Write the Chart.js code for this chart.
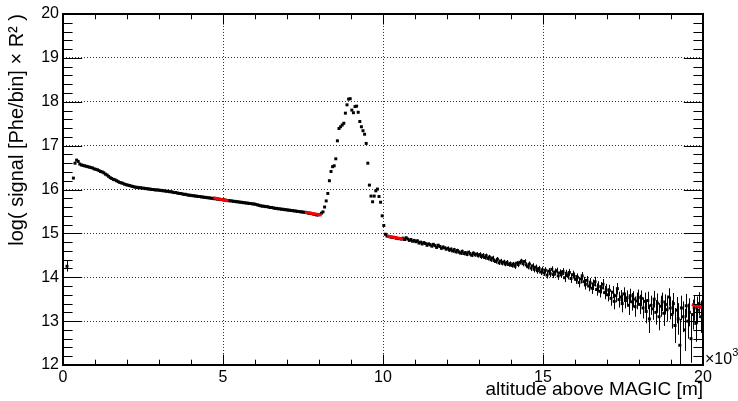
<!DOCTYPE html>
<html>
<head>
<meta charset="utf-8">
<script src="https://cdn.jsdelivr.net/npm/chart.js@4.4.1/dist/chart.umd.min.js"></script>
<style>
  html, body { margin: 0; padding: 0; background: #fff; }
</style>
</head>
<body>
<canvas id="myChart" width="738" height="401"></canvas>
<script>
// histogram binning, altitude in m
const binStart = 0;
const binWidth = 50;

// log( signal x R^2 ) per 50 m bin, one line = 1 km
const signal = [
  null, null, 14.25, null, null, null, 16.26, 16.60, 16.67, 16.64, 16.58, 16.56, 16.55, 16.54, 16.53, 16.52, 16.51, 16.50, 16.49, 16.47,
  16.46, 16.45, 16.43, 16.41, 16.40, 16.38, 16.35, 16.33, 16.30, 16.27, 16.25, 16.23, 16.22, 16.20, 16.18, 16.16, 16.15, 16.14, 16.12, 16.11,
  16.10, 16.09, 16.08, 16.07, 16.06, 16.05, 16.05, 16.04, 16.04, 16.03, 16.03, 16.02, 16.02, 16.01, 16.01, 16.00, 16.00, 15.99, 15.99, 15.99,
  15.98, 15.98, 15.97, 15.97, 15.96, 15.96, 15.95, 15.95, 15.94, 15.93, 15.93, 15.92, 15.91, 15.91, 15.90, 15.89, 15.89, 15.88, 15.87, 15.87,
  15.86, 15.86, 15.85, 15.85, 15.84, 15.84, 15.83, 15.83, 15.82, 15.82, 15.81, 15.81, 15.80, 15.80, 15.79, 15.79, 15.78, 15.78, 15.77, 15.77,
  15.76, 15.76, 15.75, 15.75, 15.74, 15.74, 15.73, 15.73, 15.72, 15.72, 15.71, 15.71, 15.70, 15.70, 15.69, 15.69, 15.68, 15.68, 15.67, 15.67,
  15.66, 15.65, 15.64, 15.63, 15.62, 15.62, 15.61, 15.61, 15.60, 15.59, 15.59, 15.58, 15.57, 15.57, 15.56, 15.56, 15.55, 15.55, 15.54, 15.54,
  15.53, 15.53, 15.52, 15.52, 15.51, 15.51, 15.50, 15.50, 15.49, 15.49, 15.48, 15.48, 15.47, 15.46, 15.46, 15.45, 15.44, 15.43, 15.42, 15.42,
  15.43, 15.46, 15.49, 15.60, 15.74, 15.91, 16.20, 16.41, 16.52, 16.54, 16.70, 17.11, 17.39, 17.43, 17.47, 17.51, 17.74, 17.93, 18.06, 18.07,
  17.81, 17.75, 17.89, 17.90, 17.76, 17.55, 17.43, 17.34, 17.26, 17.05, 16.60, 16.10, 15.85, 15.72, 15.85, 15.97, 16.01, 15.84, 15.71, 15.40,
  15.18, 14.98, 14.94, 14.93, 14.92, 14.91, 14.91, 14.90, 14.89, 14.88, 14.88, 14.87, 14.89, 14.86, 14.90, 14.87, 14.84, 14.86, 14.82, 14.84,
  14.81, 14.83, 14.78, 14.80, 14.76, 14.79, 14.77, 14.73, 14.76, 14.74, 14.71, 14.75, 14.72, 14.68, 14.73, 14.70, 14.66, 14.69, 14.67, 14.64,
  14.66, 14.62, 14.64, 14.60, 14.63, 14.58, 14.61, 14.57, 14.55, 14.59, 14.54, 14.56, 14.52, 14.57, 14.53, 14.50, 14.55, 14.51, 14.53, 14.49,
  14.52, 14.47, 14.50, 14.45, 14.49, 14.43, 14.46, 14.40, 14.44, 14.38, 14.36, 14.41, 14.33, 14.37, 14.32, 14.35, 14.30, 14.34, 14.29, 14.31,
  14.27, 14.30, 14.25, 14.32, 14.29, 14.34, 14.37, 14.31, 14.36, 14.28, 14.24, 14.30, 14.21, 14.26, 14.18, 14.23, 14.15, 14.20, 14.12, 14.17,
  14.10, 14.16, 14.05, 14.14, 14.08, 14.18, 14.06, 14.12, 14.15, 14.03, 14.10, 14.07, 14.13, 13.99, 14.09, 14.04, 14.11, 13.97, 14.06, 14.02,
  13.95, 14.00, 13.88, 13.96, 14.03, 13.90, 13.84, 13.93, 13.80, 13.87, 13.75, 13.83, 13.90, 13.72, 13.79, 13.68, 13.76, 13.84, 13.65, 13.71,
  13.60, 13.70, 13.52, 13.66, 13.45, 13.58, 13.74, 13.49, 13.55, 13.40, 13.62, 13.47, 13.53, 13.36, 13.58, 13.44, 13.50, 13.33, 13.46, 13.54,
  13.38, 13.52, 13.30, 13.45, 13.22, 13.47, 13.05, 13.36, 13.28, 13.50, 13.20, 13.41, 13.10, 13.34, 13.44, 13.18, 13.38, 13.26, 13.55, 13.30,
  13.15, 13.40, 12.90, 13.25, 13.05, 12.45, 13.30, 13.10, 12.80, 13.35, 13.00, 13.20, 12.60, 13.15, 13.30, 12.95, 13.25, 13.40, 13.10, 13.35
];

const signalErr = [
  0, 0, 0.12, 0, 0, 0, 0.02, 0.02, 0.02, 0.02, 0.01, 0.01, 0.01, 0.01, 0.01, 0.01, 0.01, 0.01, 0.01, 0.01,
  0.01, 0.01, 0.01, 0.01, 0.01, 0.01, 0.01, 0.01, 0.01, 0.01, 0.01, 0.01, 0.01, 0.01, 0.01, 0.01, 0.01, 0.01, 0.01, 0.01,
  0.01, 0.01, 0.01, 0.01, 0.01, 0.01, 0.01, 0.01, 0.01, 0.01, 0.01, 0.01, 0.01, 0.01, 0.01, 0.01, 0.01, 0.01, 0.01, 0.01,
  0.01, 0.01, 0.01, 0.01, 0.01, 0.01, 0.01, 0.01, 0.01, 0.01, 0.01, 0.01, 0.01, 0.01, 0.01, 0.01, 0.01, 0.01, 0.01, 0.01,
  0.01, 0.01, 0.01, 0.01, 0.01, 0.01, 0.01, 0.01, 0.01, 0.01, 0.01, 0.01, 0.01, 0.01, 0.01, 0.01, 0.01, 0.01, 0.01, 0.01,
  0.01, 0.01, 0.01, 0.01, 0.01, 0.01, 0.01, 0.01, 0.01, 0.01, 0.01, 0.01, 0.01, 0.01, 0.01, 0.01, 0.01, 0.01, 0.01, 0.01,
  0.01, 0.01, 0.01, 0.01, 0.01, 0.01, 0.01, 0.01, 0.01, 0.01, 0.01, 0.01, 0.01, 0.01, 0.01, 0.01, 0.01, 0.01, 0.01, 0.01,
  0.01, 0.01, 0.01, 0.01, 0.01, 0.01, 0.01, 0.01, 0.01, 0.01, 0.01, 0.01, 0.01, 0.01, 0.01, 0.01, 0.01, 0.01, 0.01, 0.01,
  0.01, 0.01, 0.01, 0.01, 0.01, 0.01, 0.01, 0.01, 0.01, 0.01, 0.01, 0.01, 0.01, 0.01, 0.01, 0.01, 0.01, 0.01, 0.01, 0.01,
  0.01, 0.01, 0.01, 0.01, 0.01, 0.01, 0.01, 0.01, 0.01, 0.01, 0.01, 0.01, 0.01, 0.01, 0.01, 0.01, 0.01, 0.01, 0.01, 0.01,
  0.02, 0.02, 0.02, 0.02, 0.02, 0.02, 0.02, 0.02, 0.02, 0.02, 0.02, 0.02, 0.02, 0.02, 0.02, 0.02, 0.02, 0.02, 0.02, 0.02,
  0.03, 0.03, 0.03, 0.03, 0.03, 0.03, 0.03, 0.03, 0.03, 0.03, 0.03, 0.03, 0.03, 0.03, 0.03, 0.03, 0.03, 0.03, 0.03, 0.03,
  0.04, 0.04, 0.04, 0.04, 0.04, 0.04, 0.04, 0.04, 0.04, 0.04, 0.04, 0.04, 0.04, 0.04, 0.04, 0.04, 0.04, 0.04, 0.04, 0.04,
  0.05, 0.05, 0.05, 0.05, 0.05, 0.05, 0.05, 0.05, 0.05, 0.05, 0.05, 0.05, 0.05, 0.05, 0.05, 0.05, 0.05, 0.05, 0.05, 0.05,
  0.05, 0.05, 0.06, 0.05, 0.06, 0.05, 0.05, 0.06, 0.05, 0.06, 0.06, 0.06, 0.07, 0.06, 0.07, 0.06, 0.07, 0.06, 0.07, 0.07,
  0.07, 0.07, 0.08, 0.07, 0.08, 0.07, 0.08, 0.08, 0.07, 0.09, 0.08, 0.08, 0.08, 0.10, 0.08, 0.09, 0.08, 0.10, 0.09, 0.09,
  0.10, 0.09, 0.11, 0.10, 0.09, 0.11, 0.12, 0.10, 0.12, 0.11, 0.13, 0.12, 0.11, 0.14, 0.12, 0.14, 0.13, 0.12, 0.15, 0.14,
  0.15, 0.13, 0.17, 0.14, 0.18, 0.15, 0.13, 0.18, 0.16, 0.20, 0.15, 0.18, 0.17, 0.22, 0.16, 0.20, 0.18, 0.23, 0.19, 0.18,
  0.22, 0.18, 0.24, 0.20, 0.27, 0.20, 0.32, 0.22, 0.25, 0.19, 0.28, 0.22, 0.31, 0.24, 0.21, 0.29, 0.23, 0.27, 0.20, 0.26,
  0.32, 0.24, 0.40, 0.30, 0.36, 0.60, 0.28, 0.35, 0.48, 0.27, 0.40, 0.32, 0.55, 0.34, 0.29, 0.42, 0.31, 0.26, 0.37, 0.30
];

// the red fit pieces: altitude range [m] and value at both ends
const fitFrom  = [4700, 7560, 10120, 19650];
const fitTo    = [5170, 8080, 10630, 19960];
const fitStart = [15.81, 15.48, 14.94, 13.38];
const fitEnd   = [15.74, 15.42, 14.87, 13.31];

const xMin = 0, xMax = 20000;
const yMin = 12, yMax = 20;

const FONT = '"Liberation Sans", Arial, Helvetica, sans-serif';

document.addEventListener('DOMContentLoaded', () => {
  const ctx = document.getElementById('myChart').getContext('2d');

  const points = [];
  signal.forEach((v, i) => {
    if (v === null) return;
    points.push({ x: binStart + (i + 0.5) * binWidth, y: v, err: signalErr[i] });
  });

  const fitSets = fitFrom.map((f, i) => ({
    type: 'line',
    data: [{ x: f, y: fitStart[i] }, { x: fitTo[i], y: fitEnd[i] }],
    borderColor: '#ff0000',
    borderWidth: 3,
    pointRadius: 0,
    fill: false
  }));

  // vertical error bars, drawn under the markers
  const errorBars = {
    id: 'errorBars',
    beforeDatasetsDraw(chart) {
      const { ctx, chartArea: a, scales: { x, y } } = chart;
      ctx.save();
      ctx.beginPath();
      ctx.rect(a.left, a.top, a.right - a.left, a.bottom - a.top);
      ctx.clip();
      ctx.strokeStyle = '#000';
      ctx.lineWidth = 1;
      ctx.beginPath();
      points.forEach(p => {
        if (!p.err) return;
        const px = Math.round(x.getPixelForValue(p.x)) + 0.5;
        ctx.moveTo(px, y.getPixelForValue(p.y - p.err));
        ctx.lineTo(px, y.getPixelForValue(p.y + p.err));
      });
      ctx.stroke();
      ctx.restore();
    }
  };

  // ROOT-like frame with ticks on all four sides + the x10^3 exponent
  const rootFrame = {
    id: 'rootFrame',
    afterDraw(chart) {
      const { ctx, chartArea: a, scales: { x, y } } = chart;
      ctx.save();
      ctx.strokeStyle = '#000';
      ctx.lineWidth = 1;
      ctx.beginPath();
      for (let k = 0; k <= 20; k++) {
        const px = Math.round(x.getPixelForValue(k * 1000)) + 0.5;
        const len = k % 5 === 0 ? 10.5 : 5.3;
        ctx.moveTo(px, a.bottom); ctx.lineTo(px, a.bottom - len);
        ctx.moveTo(px, a.top); ctx.lineTo(px, a.top + len);
      }
      for (let k = yMin * 5; k <= yMax * 5; k++) {
        const py = Math.round(y.getPixelForValue(k / 5)) + 0.5;
        const len = k % 5 === 0 ? 19.2 : 9.6;
        ctx.moveTo(a.left, py); ctx.lineTo(a.left + len, py);
        ctx.moveTo(a.right, py); ctx.lineTo(a.right - len, py);
      }
      ctx.stroke();
      ctx.lineWidth = 2;
      ctx.strokeRect(a.left, a.top, a.right - a.left, a.bottom - a.top);

      ctx.fillStyle = '#000';
      ctx.textBaseline = 'alphabetic';
      ctx.textAlign = 'left';
      ctx.font = '16px ' + FONT;
      ctx.fillText('\u00d710', a.right + 2, a.bottom - 1);
      const w = ctx.measureText('\u00d710').width;
      ctx.font = '11px ' + FONT;
      ctx.fillText('3', a.right + 2 + w, a.bottom - 9);
      ctx.restore();
    }
  };

  const myChart = new Chart(ctx, {
    data: {
      datasets: [
        ...fitSets,
        {
          type: 'scatter',
          label: 'signal',
          data: points,
          pointStyle: 'rect',
          pointRadius: 2.1,
          pointBackgroundColor: '#000',
          pointBorderWidth: 0,
          showLine: false
        }
      ]
    },
    options: {
      responsive: false,
      devicePixelRatio: 1,
      animation: false,
      layout: { padding: { top: 14, right: 35, left: 0, bottom: 0 } },
      plugins: { legend: { display: false }, tooltip: { enabled: false } },
      scales: {
        x: {
          type: 'linear',
          min: xMin, max: xMax,
          afterFit: s => { s.height = 36; },
          ticks: {
            stepSize: 5000, autoSkip: false, maxRotation: 0, padding: 3,
            color: '#000', font: { family: FONT, size: 16 },
            callback: v => v / 1000
          },
          grid: {
            drawTicks: false, lineWidth: 1,
            color: c => (c.tick && c.tick.value > xMin && c.tick.value < xMax) ? '#333' : 'rgba(0,0,0,0)'
          },
          border: { display: false, dash: [1, 2] },
          title: {
            display: true, text: 'altitude above MAGIC [m]', align: 'end',
            color: '#000', font: { family: FONT, size: 19 }, padding: { top: 0, bottom: 0 }
          }
        },
        y: {
          type: 'linear',
          min: yMin, max: yMax,
          afterFit: s => { s.width = 63; },
          ticks: {
            stepSize: 1, padding: 4,
            color: '#000', font: { family: FONT, size: 16 }
          },
          grid: {
            drawTicks: false, lineWidth: 1,
            color: c => (c.tick && c.tick.value > yMin && c.tick.value < yMax) ? '#333' : 'rgba(0,0,0,0)'
          },
          border: { display: false, dash: [1, 2] },
          title: {
            display: true, text: 'log( signal [Phe/bin] \u00d7 R\u00b2 )', align: 'end',
            color: '#000', font: { family: FONT, size: 20 }, padding: { top: 5, bottom: 0 }
          }
        }
      }
    },
    plugins: [errorBars, rootFrame]
  });
});
</script>
</body>
</html>
